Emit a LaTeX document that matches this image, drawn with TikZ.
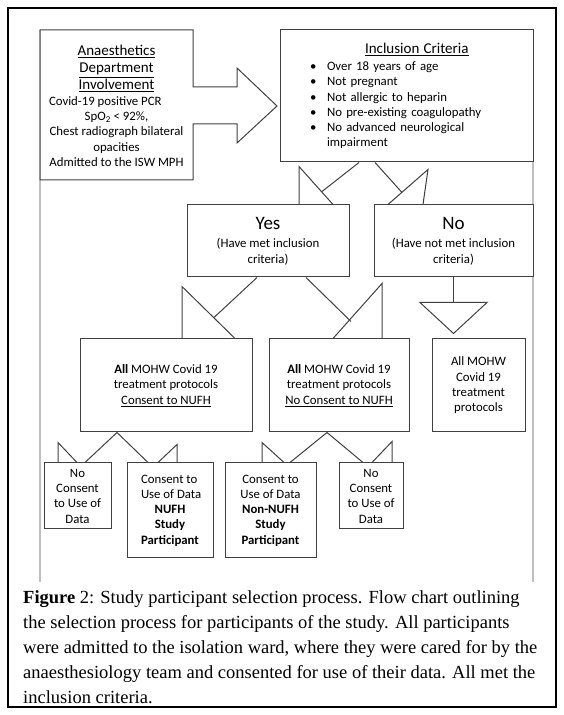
\documentclass[tikz,border=0pt]{standalone}
\usepackage{fontspec}
\setmainfont{Carlito}
\newfontfamily\capfont{Liberation Serif}
\newcommand\boxfont{\fontsize{12.8}{15.3}\selectfont}
\newcommand\headfont{\fontsize{15}{17}\selectfont}
\begin{document}
\begin{tikzpicture}[x=1pt,y=1pt,
  box/.style={draw=black!75, line width=1pt, fill=white, align=center, inner sep=0pt, font=\boxfont},
  conn/.style={draw=black!75, line width=1pt}]
\useasboundingbox (0,0) rectangle (564,715);
\draw[line width=1.3pt] (8,8) rectangle (556,707);
\draw[black!25, line width=1.5pt] (40,685) -- (40,133);
\draw[black!25, line width=1.5pt] (533,685) -- (533,133);

% department box with its block arrow
\draw[conn, fill=white] (40,685) -- (193,685) -- (193,628) -- (237,628) -- (237,647) -- (277,609)
  -- (237,572) -- (237,591) -- (193,591) -- (193,535) -- (40,535) -- cycle;
\node[font=\boxfont, align=center, inner sep=0pt] (1a) at (116.5,609) {\headfont\underline{Anaesthetics}\\[1.7pt]
  \headfont\underline{Department}\\[1.7pt] \headfont\underline{Involvement}\\
  \boxfont\makebox[135pt][l]{Covid-19 positive PCR}\\ SpO\textsubscript{2} < 92\%,\\
  Chest radiograph bilateral\\ opacities\\ Admitted to the ISW MPH};
\node[box, minimum width=253pt, minimum height=132pt, text width=193pt, align=left] (1b) at (406.5,619)
  {\hspace*{55pt}{\headfont\underline{Inclusion Criteria}}\\[1.7pt]
  \makebox[17pt][l]{\textbullet}Over 18 years of age\\
  \makebox[17pt][l]{\textbullet}Not pregnant\\
  \makebox[17pt][l]{\textbullet}Not allergic to heparin\\
  \makebox[17pt][l]{\textbullet}No pre-existing coagulopathy\\
  \makebox[17pt][l]{\textbullet}No advanced neurological\\
  \makebox[17pt][l]{}impairment};

\node[box, minimum width=162pt, minimum height=72pt] (2a) at (268,474)
  {\fontsize{19}{21}\selectfont Yes\\[3.5pt] (Have met inclusion\\ criteria)};
\node[box, minimum width=159pt, minimum height=72pt] (2b) at (453.5,474)
  {\fontsize{19}{21}\selectfont No\\[3.5pt] (Have not met inclusion\\ criteria)};

\node[box, minimum width=172pt, minimum height=93pt] (3a) at (166,329.5)
  {\textbf{All} MOHW Covid 19\\ treatment protocols\\ \underline{Consent to NUFH}};
\node[box, minimum width=140pt, minimum height=93pt] (3b) at (339,329.5)
  {\textbf{All} MOHW Covid 19\\ treatment protocols\\ \underline{No Consent to NUFH}};
\node[box, minimum width=93pt, minimum height=93pt] (3c) at (478.5,329.5)
  {All MOHW\\ Covid 19\\ treatment\\ protocols};

\node[box, minimum width=67pt, minimum height=66pt] (4a) at (77.5,219) {No\\ Consent\\ to Use of\\ Data};
\node[box, minimum width=86pt, minimum height=95pt] (4b) at (170,204.5)
  {\makebox[58pt][l]{Consent to}\\ \makebox[58pt][l]{Use of Data}\\ \textbf{NUFH}\\ \textbf{Study}\\ \textbf{Participant}};
\node[box, minimum width=91pt, minimum height=95pt] (4c) at (270.5,204.5)
  {Consent to\\ Use of Data\\ \textbf{Non-NUFH}\\ \textbf{Study}\\ \textbf{Participant}};
\node[box, minimum width=64pt, minimum height=66pt] (4d) at (371,219) {No\\ Consent\\ to Use of\\ Data};

% criteria to yes / no
\path[conn] ([xshift=-47.5pt]1b.south) -- ([xshift=54pt,yshift=13pt]2a.north);
\path[conn] ([xshift=31pt]2a.north) -- ++(0,38) -- ([xshift=65pt]2a.north);
\path[conn] ([xshift=-31.5pt]1b.south) -- ([xshift=-51.5pt,yshift=12pt]2b.north);
\path[conn] ([xshift=-30.5pt]2b.north) -- ([xshift=-25.5pt,yshift=35pt]2b.north) -- ([xshift=-65.5pt]2b.north);

% yes / no to protocols
\path[conn] ([xshift=-11pt]2a.south) -- ([xshift=48pt,yshift=21pt]3a.north);
\path[conn] ([xshift=16pt]3a.north) -- ++(0,52) -- ([xshift=69pt]3a.north);
\path[conn] ([xshift=38pt]2a.south) -- ([xshift=12pt,yshift=17pt]3b.north);
\path[conn] ([xshift=43pt]3b.north) -- ++(0,55) -- ([xshift=-6pt]3b.north);
\path[conn] (2b.south) -- ++(0,-25) coordinate (nt);
\path[conn] ([xshift=-33.5pt]nt) -- ([xshift=33.5pt]nt) -- ([yshift=-31pt]nt) -- cycle;

% protocols to data consent
\path[conn] ([xshift=-49pt]3a.south) -- ([xshift=7.5pt]4a.north);
\path[conn] ([xshift=-19.5pt]4a.north) -- ++(0,20) -- ([xshift=-0.5pt]4a.north);
\path[conn] ([xshift=-49pt]3a.south) -- ([xshift=-22pt]4b.north);
\path[conn] ([xshift=7pt]4b.north) -- ++(0,18) -- ([xshift=-12pt]4b.north);
\path[conn] ([xshift=-12pt]3b.south) -- ([xshift=19.5pt]4c.north);
\path[conn] ([xshift=-8.5pt]4c.north) -- ++(0,20) -- ([xshift=13.5pt]4c.north);
\path[conn] ([xshift=-12pt]3b.south) -- ([xshift=-8pt]4d.north);
\path[conn] ([xshift=21pt]4d.north) -- ++(0,21) -- ([xshift=1pt]4d.north);

\node[anchor=west, align=left, inner sep=0pt, font=\capfont\fontsize{18.5}{25}\selectfont] (cap) at (23,67.5)
  {\textbf{Figure} 2: Study participant selection process. Flow chart outlining\\
  the selection process for participants of the study. All participants\\
  were admitted to the isolation ward, where they were cared for by the\\
  anaesthesiology team and consented for use of their data. All met the\\
  inclusion criteria.};
\end{tikzpicture}
\end{document}
